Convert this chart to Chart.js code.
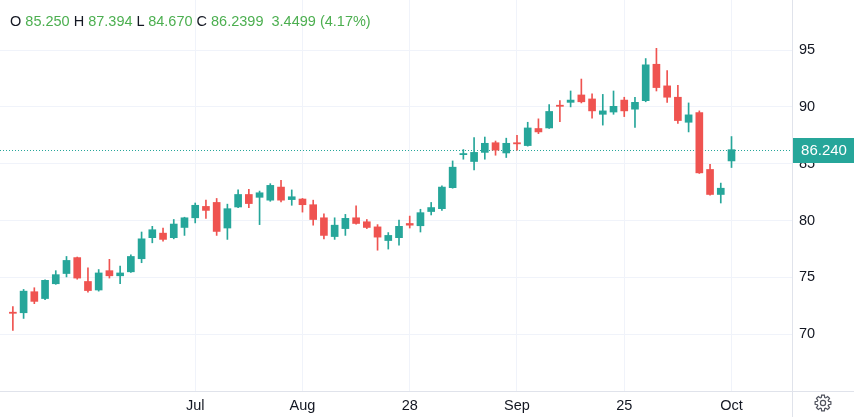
<!DOCTYPE html>
<html>
<head>
<meta charset="utf-8">
<title>Candles</title>
<script src="https://cdn.jsdelivr.net/npm/chart.js@4.4.1/dist/chart.umd.min.js"></script>
<style>
	body { margin: 0; background: #fff; }
	#wrap { position: relative; width: 854px; height: 417px; }
	#legend {
		position: absolute; left: 10px; top: 13px;
		font-family: "Liberation Sans", Arial, sans-serif; font-size: 14.5px;
		color: #131722; white-space: pre;
	}
	#legend .v { color: #4caf50; }
</style>
</head>
<body>
<div id="wrap">
	<canvas id="myChart" width="854" height="417"></canvas>
	<div id="legend">O <span class="v">85.250</span> H <span class="v">87.394</span> L <span class="v">84.670</span> C <span class="v">86.2399</span>  <span class="v">3.4499 (4.17%)</span></div>
</div>
<script>
var opens = [71.95, 71.9, 73.75, 73.15, 74.45, 75.35, 76.75, 74.65, 73.9, 75.6,
	75.15, 75.5, 76.65, 78.5, 78.9, 78.5, 79.4, 80.25, 81.25, 81.6,
	79.35, 81.2, 82.3, 82.05, 81.8, 82.95, 81.85, 81.9, 81.4, 80.25,
	78.6, 79.3, 80.25, 79.9, 79.45, 78.25, 78.5, 79.75, 79.55, 80.8,
	81.05, 82.9, 85.8, 85.2, 86.0, 86.85, 85.95, 86.85, 86.6, 88.1,
	88.15, 90.15, 90.4, 91.05, 90.7, 89.35, 89.55, 90.6, 89.8, 90.55,
	93.75, 91.85, 90.85, 88.65, 89.5, 84.5, 82.3, 85.25];
var highs = [72.45, 73.95, 74.1, 74.8, 75.6, 76.85, 76.8, 75.85, 75.7, 76.6,
	76.0, 77.0, 79.0, 79.5, 79.35, 80.1, 80.3, 81.55, 81.8, 81.95,
	81.45, 82.7, 82.75, 82.6, 83.25, 83.55, 82.7, 81.95, 81.8, 80.6,
	80.25, 80.55, 81.3, 80.1, 79.65, 78.95, 80.05, 80.4, 81.0, 81.6,
	83.05, 85.25, 86.25, 87.3, 87.35, 87.0, 87.25, 87.5, 88.65, 88.95,
	90.2, 90.55, 91.4, 92.45, 91.15, 91.1, 91.4, 90.85, 90.85, 94.25,
	95.15, 93.2, 91.9, 90.35, 89.65, 84.95, 83.3, 87.394];
var lows = [70.35, 71.4, 72.7, 73.05, 74.4, 75.05, 74.85, 73.7, 73.8, 74.95,
	74.45, 75.45, 76.3, 78.05, 78.2, 78.4, 78.7, 79.8, 80.2, 78.7,
	78.35, 81.15, 81.15, 79.65, 81.7, 81.65, 81.35, 80.75, 79.6, 78.4,
	78.35, 78.7, 79.7, 79.3, 77.4, 77.5, 77.85, 79.35, 79.0, 80.5,
	80.9, 82.85, 85.4, 84.45, 85.4, 85.75, 85.55, 86.2, 86.55, 87.65,
	88.1, 88.7, 90.0, 90.35, 89.0, 88.4, 89.35, 89.15, 88.2, 90.45,
	91.4, 90.4, 88.55, 87.8, 84.15, 82.25, 81.55, 84.67];
var closes = [71.85, 73.8, 72.9, 74.75, 75.25, 76.5, 74.95, 73.85, 75.4, 75.15,
	75.4, 76.85, 78.4, 79.2, 78.35, 79.7, 80.25, 81.35, 80.9, 79.05,
	81.05, 82.3, 81.5, 82.45, 83.1, 81.8, 82.1, 81.4, 80.1, 78.7,
	79.6, 80.2, 79.75, 79.4, 78.55, 78.7, 79.5, 79.6, 80.7, 81.15,
	82.95, 84.7, 85.9, 86.0, 86.8, 86.2, 86.8, 86.75, 88.15, 87.8,
	89.6, 90.05, 90.6, 90.45, 89.65, 89.65, 90.05, 89.65, 90.4, 93.7,
	91.7, 90.85, 88.8, 89.3, 84.2, 82.3, 82.85, 86.2399];
var tickIdx = [17, 27, 37, 47, 57, 67];
var tickText = ["Jul", "Aug", "28", "Sep", "25", "Oct"];
var priceTicks = [70, 75, 80, 85, 90, 95];

var UP = "#26a69a", DOWN = "#ef5350";
var lastClose = closes[closes.length - 1];

var bodies = [], wicks = [], colors = [];
for (var i = 0; i < opens.length; i++) {
	bodies.push({ x: i, y: [opens[i], closes[i]] });
	wicks.push({ x: i, y: [lows[i], highs[i]] });
	colors.push(closes[i] >= opens[i] ? UP : DOWN);
}

var overlay = {
	id: "overlay",
	beforeDatasetsDraw: function(chart) {
		var ctx = chart.ctx, a = chart.chartArea;
		var y = Math.round(chart.scales.y.getPixelForValue(lastClose)) + 0.5;
		ctx.save();
		ctx.strokeStyle = UP;
		ctx.lineWidth = 1;
		ctx.setLineDash([1, 2]);
		ctx.beginPath();
		ctx.moveTo(a.left, y);
		ctx.lineTo(a.right, y);
		ctx.stroke();
		ctx.restore();
	},
	afterDraw: function(chart) {
		var ctx = chart.ctx, a = chart.chartArea;
		var W = chart.width, H = chart.height;
		ctx.save();
		// pane separators
		ctx.strokeStyle = "#e0e3eb";
		ctx.lineWidth = 1;
		ctx.beginPath();
		ctx.moveTo(a.right + 0.5, 0);
		ctx.lineTo(a.right + 0.5, H);
		ctx.moveTo(0, a.bottom + 0.5);
		ctx.lineTo(W, a.bottom + 0.5);
		ctx.stroke();
		// last price label
		var y = Math.round(chart.scales.y.getPixelForValue(lastClose));
		ctx.fillStyle = UP;
		ctx.fillRect(a.right + 1, y - 12, W - a.right - 1, 25);
		ctx.fillStyle = "#fff";
		ctx.font = "15px 'Liberation Sans', Arial, sans-serif";
		ctx.textAlign = "center";
		ctx.textBaseline = "middle";
		ctx.fillText(lastClose.toFixed(3), (a.right + W) / 2 + 1, y + 1);
		// settings gear
		var cx = 823, cy = 403, ro = 8, ri = 5.8;
		ctx.strokeStyle = "#50535e";
		ctx.lineWidth = 1.2;
		ctx.beginPath();
		for (var k = 0; k < 8; k++) {
			var t = k * Math.PI / 4;
			var pts = [[ri, t - 0.3], [ro, t - 0.17], [ro, t + 0.17], [ri, t + 0.3]];
			for (var p = 0; p < pts.length; p++) {
				var px = cx + pts[p][0] * Math.cos(pts[p][1]);
				var py = cy + pts[p][0] * Math.sin(pts[p][1]);
				if (k === 0 && p === 0) ctx.moveTo(px, py); else ctx.lineTo(px, py);
			}
		}
		ctx.closePath();
		ctx.stroke();
		ctx.beginPath();
		ctx.arc(cx, cy, 2.6, 0, Math.PI * 2);
		ctx.stroke();
		ctx.restore();
	}
};

new Chart(document.getElementById("myChart"), {
	"type": "bar",
	"data": {
		"datasets": [{
			"data": bodies,
			"backgroundColor": colors,
			"barThickness": 7,
			"minBarLength": 1,
			"order": 0
		}, {
			"data": wicks,
			"backgroundColor": colors,
			"barThickness": 1,
			"order": 1
		}]
	},
	"options": {
		"responsive": false,
		"animation": false,
		"events": [],
		"layout": { "padding": 0 },
		"datasets": { "bar": { "grouped": false, "borderWidth": 0 } },
		"plugins": { "legend": { "display": false }, "tooltip": { "enabled": false } },
		"scales": {
			"x": {
				"type": "linear",
				"offset": false,
				"min": -1.2,
				"max": 72.64,
				"afterBuildTicks": function(scale) {
					scale.ticks = tickIdx.map(function(v) { return { value: v }; });
				},
				"afterFit": function(scale) {
					scale.height = 26;
					scale.paddingLeft = 0;
					scale.paddingRight = 0;
				},
				"grid": { "color": "#f0f3fa", "drawTicks": false, "offset": false },
				"border": { "display": false },
				"ticks": {
					"autoSkip": false,
					"maxRotation": 0,
					"padding": 6,
					"color": "#131722",
					"font": { "family": "'Liberation Sans', Arial, sans-serif", "size": 14.5 },
					"callback": function(value) { return tickText[tickIdx.indexOf(value)]; }
				}
			},
			"y": {
				"position": "right",
				"min": 65.02,
				"max": 99.4,
				"afterBuildTicks": function(scale) {
					scale.ticks = priceTicks.map(function(v) { return { value: v }; });
				},
				"afterFit": function(scale) {
					scale.width = 62;
					scale.paddingTop = 0;
					scale.paddingBottom = 0;
				},
				"grid": { "color": "#f0f3fa", "drawTicks": false },
				"border": { "display": false },
				"ticks": {
					"padding": 7,
					"color": "#131722",
					"font": { "family": "'Liberation Sans', Arial, sans-serif", "size": 14.5 }
				}
			}
		}
	},
	"plugins": [overlay]
});
</script>
</body>
</html>
